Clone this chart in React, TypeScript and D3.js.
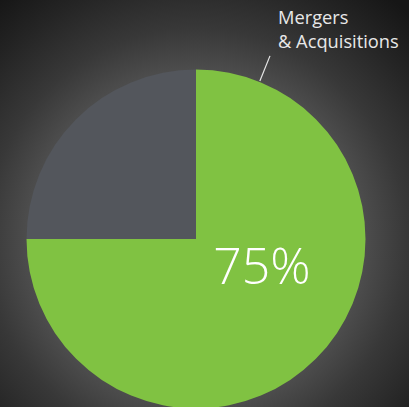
import React from "react";
import * as d3 from "d3";

const categories = ["Mergers & Acquisitions", "Other"];
const values = [75, 25];
const colors = ["#80c242", "#53565c"];
const labelLines = ["Mergers", "& Acquisitions"];
const centerLabel = "75%";

const W = 409;
const H = 407;

export default function App() {
  const cx = 196, cy = 239, r = 169.5;
  const pie = d3.pie<number>().sort(null).value((d) => d)(values);
  const arc = d3.arc<d3.PieArcDatum<number>>().innerRadius(0).outerRadius(r);
  const leaderAngle = (22 * Math.PI) / 180;
  const p1 = [Math.sin(leaderAngle) * (r + 1), -Math.cos(leaderAngle) * (r + 1)];
  const p2 = [Math.sin(leaderAngle) * (r + 28), -Math.cos(leaderAngle) * (r + 28) ];
  return (
    <svg width={W} height={H} style={{ position: "absolute", left: 0, top: 0, display: "block" }}>
      <defs>
        <radialGradient id="bg" gradientUnits="userSpaceOnUse" cx={cx} cy={cy} r={310}>
          <stop offset="0" stopColor="#5a5a5a" />
          <stop offset="0.55" stopColor="#4c4c4c" />
          <stop offset="0.68" stopColor="#383838" />
          <stop offset="0.85" stopColor="#252525" />
          <stop offset="1" stopColor="#161616" />
        </radialGradient>
      </defs>
      <rect x={0} y={0} width={W} height={H} fill="url(#bg)" />
      <g transform={`translate(${cx},${cy})`}>
        {pie.map((d, i) => (
          <path key={categories[i]} d={arc(d) || ""} fill={colors[i]} />
        ))}
        <line x1={p1[0]} y1={p1[1]} x2={p2[0]} y2={p2[1]} stroke="#e6e6e6" strokeWidth={1.2} />
        <text x={66} y={45} textAnchor="middle" fill="#ffffff" fontFamily="'Open Sans', sans-serif" fontWeight={300} fontSize={50}>
          {centerLabel}
        </text>
      </g>
      <text fill="#e8e8e8" fontFamily="'Open Sans', sans-serif" fontSize={18.3}>
        {labelLines.map((l, i) => (
          <tspan key={i} x={278} y={24 + i * 24}>{l}</tspan>
        ))}
      </text>
    </svg>
  );
}
